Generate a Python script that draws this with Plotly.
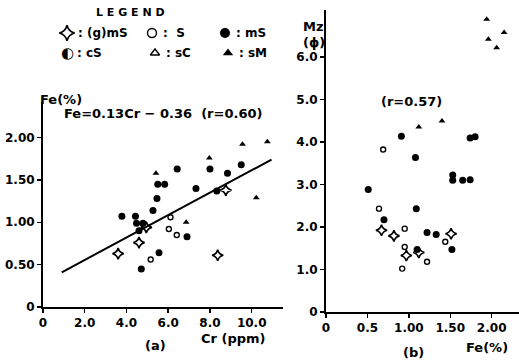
import plotly.graph_objects as go

W, H = 519, 363
FONT = "DejaVu Sans"

# ---- panel (a): Cr (ppm) vs Fe (%)
a_mS_cr = [3.78, 4.43, 4.48, 4.79, 4.60, 4.71, 5.27, 5.46, 5.50, 5.83, 5.56, 6.43, 6.90, 7.33, 8.00, 8.33, 8.84, 9.50]
a_mS_fe = [1.07, 1.07, 0.99, 0.99, 0.90, 0.45, 1.14, 1.28, 1.45, 1.45, 0.64, 1.63, 0.83, 1.40, 1.63, 1.37, 1.58, 1.68]
a_S_cr = [5.16, 6.11, 6.03, 6.41]
a_S_fe = [0.56, 1.06, 0.92, 0.85]
a_sM_cr = [5.41, 6.86, 7.97, 9.56, 10.75, 10.22]
a_sM_fe = [1.58, 1.00, 1.76, 1.92, 1.95, 1.29]
a_gmS_cr = [3.60, 4.60, 8.37, 8.76, 4.95]
a_gmS_fe = [0.63, 0.76, 0.61, 1.38, 0.94]
line_cr = [0.9, 10.95]
line_fe = [0.41, 1.74]

# ---- panel (b): Fe (%) vs Mz (phi)
b_mS_fe = [0.51, 0.70, 0.91, 1.08, 1.09, 1.10, 1.22, 1.33, 1.52, 1.53, 1.53, 1.65, 1.74, 1.74, 1.80]
b_mS_mz = [2.88, 2.17, 4.13, 3.63, 2.43, 1.47, 1.87, 1.82, 1.47, 3.22, 3.10, 3.10, 3.11, 4.09, 4.12]
b_S_fe = [0.69, 0.64, 0.95, 0.95, 0.92, 1.22, 1.44]
b_S_mz = [3.82, 2.43, 1.96, 1.53, 1.02, 1.18, 1.65]
b_sM_fe = [1.12, 1.40, 1.94, 1.96, 2.06, 2.15]
b_sM_mz = [4.35, 4.49, 6.88, 6.41, 6.21, 6.57]
b_gmS_fe = [0.67, 0.82, 0.97, 1.12, 1.51]
b_gmS_mz = [1.92, 1.79, 1.33, 1.40, 1.84]

a_xticks = [0, 2, 4, 6, 8, 10]
a_xtext = ["0", "2.0", "4.0", "6.0", "8.0", "10.0"]
a_yticks = [0, 0.5, 1.0, 1.5, 2.0]
a_ytext = ["0", "0.50", "1.00", "1.50", "2.00"]
b_xticks = [0, 0.5, 1.0, 1.5, 2.0]
b_xtext = ["0", "0.5", "1.00", "1.50", "2.00"]
b_yticks = [0, 1, 2, 3, 4, 5, 6]
b_ytext = ["0", "1.0", "2.0", "3.0", "4.0", "5.0", "6.0"]

# legend entries
leg_texts = [": (g)mS", ":  S", ": mS", ": cS", ": sC", ": sM"]

def bold(lst):
    return ["<b>" + t + "</b>" for t in lst]

STYLE = {
    "gmS": dict(symbol="star-diamond-open", size=8, color="black", line=dict(width=1.6, color="black")),
    "S": dict(symbol="circle-open", size=5, color="black", line=dict(width=1.4, color="black")),
    "mS": dict(symbol="circle", size=7, color="black", line=dict(width=0)),
    "sM": dict(symbol="triangle-up", size=6, color="black", line=dict(width=0)),
    "sC": dict(symbol="triangle-up-open", size=8, color="black", line=dict(width=1.4, color="black")),
}

fig = go.Figure()

def add(x, y, key, xa, ya):
    fig.add_trace(go.Scatter(x=x, y=y, mode="markers", marker=STYLE[key], cliponaxis=False,
                             xaxis=xa, yaxis=ya, showlegend=False, hoverinfo="skip"))

fig.add_trace(go.Scatter(x=line_cr, y=line_fe, mode="lines", line=dict(color="black", width=2),
                         xaxis="x", yaxis="y", showlegend=False, hoverinfo="skip"))
add(a_mS_cr, a_mS_fe, "mS", "x", "y")
add(a_S_cr, a_S_fe, "S", "x", "y")
add(a_sM_cr, a_sM_fe, "sM", "x", "y")
add(a_gmS_cr, a_gmS_fe, "gmS", "x", "y")

add(b_mS_fe, b_mS_mz, "mS", "x2", "y2")
add(b_S_fe, b_S_mz, "S", "x2", "y2")
add(b_sM_fe, b_sM_mz, "sM", "x2", "y2")
add(b_gmS_fe, b_gmS_mz, "gmS", "x2", "y2")

# legend block on its own hidden axis (pixel-like coordinates)
leg_x = [67, 152, 225, 67, 155, 228]
leg_y = [33, 33, 33, 53, 53, 53]
leg_keys = ["gmS", "S", "mS", None, "sC", "sM"]
leg_sizes = [11, 9, 10, None, 8, 9]
for lx, ly, k, s in zip(leg_x, leg_y, leg_keys, leg_sizes):
    if k is None:
        continue
    st = dict(STYLE[k])
    st["size"] = s
    fig.add_trace(go.Scatter(x=[lx], y=[ly], mode="markers", marker=st, xaxis="x3", yaxis="y3",
                             showlegend=False, hoverinfo="skip"))

ann = []
tf = dict(family=FONT, size=12, color="black", weight="bold")
ann.append(dict(x=130, y=12, xref="x3", yref="y3", text="L E G E N D", showarrow=False,
                font=dict(family=FONT, size=11, color="black", weight="bold")))
leg_text_x = [76, 161, 234, 75, 164, 237]
for tx, ty, t in zip(leg_text_x, leg_y, leg_texts):
    ann.append(dict(x=tx, y=ty, xref="x3", yref="y3", text=t, showarrow=False,
                    xanchor="left", font=tf))
ann.append(dict(x=67, y=53, xref="x3", yref="y3", text="◐", showarrow=False,
                font=dict(family=FONT, size=15, color="black")))

lab = dict(family=FONT, size=13, color="black", weight="bold")
ann += [
    dict(x=38, y=99, xref="x3", yref="y3", text="Fe(%)", showarrow=False, xanchor="left", font=lab),
    dict(x=62, y=113, xref="x3", yref="y3", text="Fe=0.13Cr − 0.36  (r=0.60)", showarrow=False,
         xanchor="left", font=lab),
    dict(x=155, y=345, xref="x3", yref="y3", text="(a)", showarrow=False, font=lab),
    dict(x=233, y=338, xref="x3", yref="y3", text="Cr (ppm)", showarrow=False, font=lab),
    dict(x=413, y=352, xref="x3", yref="y3", text="(b)", showarrow=False, font=lab),
    dict(x=487, y=347, xref="x3", yref="y3", text="Fe(%)", showarrow=False, font=lab),
    dict(x=313, y=26, xref="x3", yref="y3", text="Mz", showarrow=False, font=lab),
    dict(x=314, y=42, xref="x3", yref="y3", text="(ϕ)", showarrow=False, font=lab),
    dict(x=411, y=101, xref="x3", yref="y3", text="(r=0.57)", showarrow=False, font=lab),
]

ax_common = dict(showgrid=False, zeroline=False, showline=True, linecolor="black", linewidth=2,
                 ticks="outside", ticklen=4, tickwidth=1.5, tickcolor="black", automargin=False,
                 tickfont=dict(family=FONT, size=12, color="black"), tickmode="array")

fig.update_layout(
    width=W, height=H, margin=dict(l=0, r=0, t=0, b=0),
    paper_bgcolor="white", plot_bgcolor="rgba(0,0,0,0)",
    xaxis=dict(ax_common, domain=[43 / W, 283 / W], range=[0, 11.5], tickvals=a_xticks,
               ticktext=bold(a_xtext), anchor="y"),
    yaxis=dict(ax_common, domain=[(H - 307) / H, (H - 102) / H], range=[0, 2.42], tickvals=a_yticks,
               ticktext=bold(a_ytext), anchor="x"),
    xaxis2=dict(ax_common, domain=[326 / W, 1.0], range=[0, 2.33], tickvals=b_xticks,
                ticktext=bold(b_xtext), anchor="y2"),
    yaxis2=dict(ax_common, domain=[(H - 312) / H, (H - 10) / H], range=[0, 7.1], tickvals=b_yticks,
                ticktext=bold(b_ytext), anchor="x2"),
    xaxis3=dict(domain=[0, 1], range=[0, W], visible=False, fixedrange=True, anchor="y3"),
    yaxis3=dict(domain=[0, 1], range=[H, 0], visible=False, fixedrange=True, anchor="x3"),
    annotations=ann,
)

fig.write_html("out.html", config={"displayModeBar": False, "staticPlot": True},
               post_script="document.body.style.margin='0';document.body.style.overflow='hidden';")
